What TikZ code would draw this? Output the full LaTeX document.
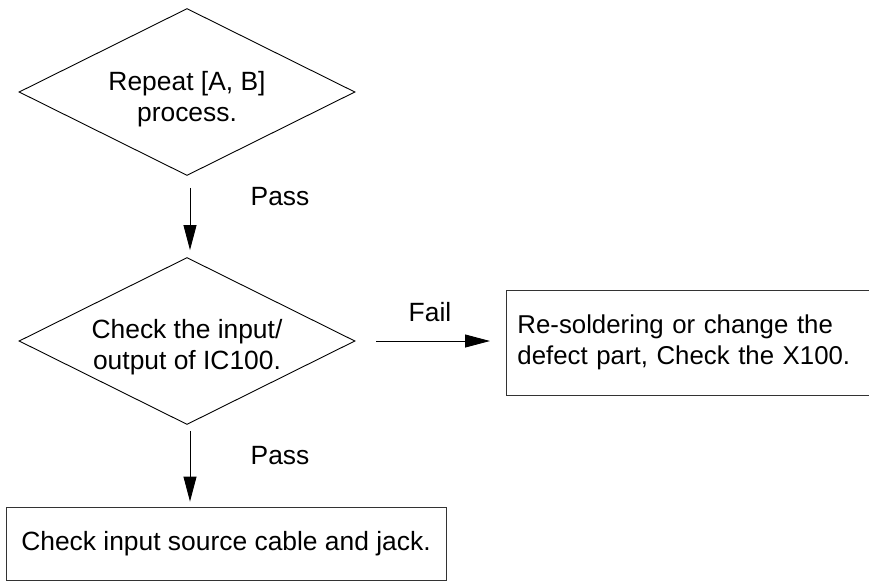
\documentclass[tikz,border=0pt]{standalone}
\usepackage{fontspec}
\setmainfont{Liberation Sans}
\usetikzlibrary{shapes.geometric,arrows.meta}
\begin{document}
\begin{tikzpicture}[x=1pt,y=-1pt,
  font=\fontsize{26.4}{31.5}\selectfont,
  dec/.style={draw=black, line width=0.9pt, diamond, shape aspect=2,
    minimum width=336pt, minimum height=167pt, inner sep=0pt, align=center},
  boxa/.style={draw=black!80, line width=0.9pt, rectangle, inner sep=0pt},
  arr/.style={draw=black, line width=0.9pt, -{Triangle[length=25pt,width=13pt]}},
  lbl/.style={inner sep=0pt}]
\useasboundingbox (0,0) rectangle (869,582);

\node[dec] (d1) at (187,92) {\rule{0pt}{33pt}Repeat [A, B]\\process.};
\node[dec] (d2) at (187,341) {\rule{0pt}{31pt}Check the input/\\output of IC100.};
\node[boxa, anchor=west, text width=345pt, inner xsep=11pt, minimum height=105pt, align=left,
  font=\fontsize{25.8}{31.5}\selectfont]
  (fix) at (506,342.5) {Re-soldering or change the\\defect part, Check the X100.};
\node[boxa, minimum width=440pt, minimum height=73pt] (src) at (226,543.5)
  {Check input source cable and jack.\hspace{7pt}};

\draw[arr, shorten <=12pt, shorten >=7pt] ([xshift=3pt]d1.south) -- ([xshift=3pt]d2.north);
\draw[arr, shorten <=21pt, shorten >=16pt] (d2.east) -- (d2.east -| fix.west);
\draw[arr, shorten <=6pt, shorten >=5pt] ([xshift=3pt]d2.south) -- ([xshift=3pt]d2.south |- src.north);

\node[lbl] (p1) at (280,196.5) {Pass};
\node[lbl] (p2) at (280,456) {Pass};
\node[lbl] (f1) at (430,312.5) {Fail};
\end{tikzpicture}
\end{document}
